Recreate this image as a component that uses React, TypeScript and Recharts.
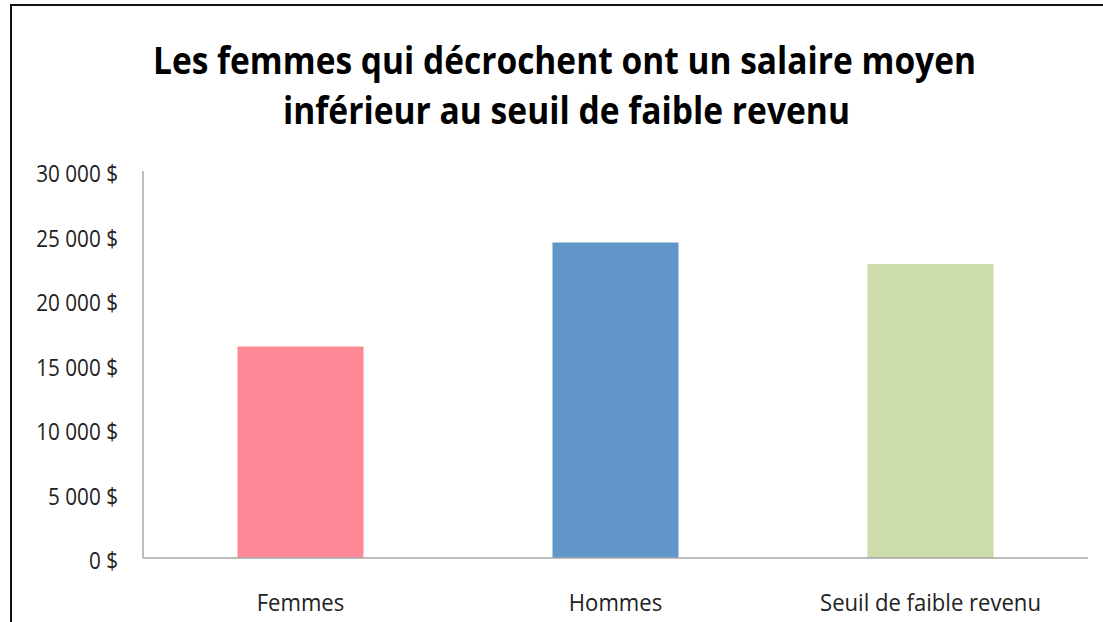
import React from "react";
import { BarChart, Bar, XAxis, YAxis, Cell } from "recharts";

const categories = ["Femmes", "Hommes", "Seuil de faible revenu"];
const salaires = [16400, 24450, 22800];
const yTicks = [0, 5000, 10000, 15000, 20000, 25000, 30000];
const titleLines = [
  "Les femmes qui décrochent ont un salaire moyen",
  "inférieur au seuil de faible revenu",
];

const COLORS = ["#FF8896", "#6196C9", "#CCDCAA"];
const FONT = "'Open Sans', Lato, sans-serif";

const data = categories.map((c, i) => ({ name: c, value: salaires[i] }));

const fmt = (v: number) => {
  const s = String(v).replace(/\B(?=(\d{3})+(?!\d))/g, " ");
  return `${s} $`;
};

const YTick = (props: any) => {
  const { y, payload } = props;
  return (
    <text
      transform={`translate(118, ${y + 11}) scale(0.9, 1)`}
      textAnchor="end"
      fontFamily={FONT}
      fontSize={23}
      fill="#222"
    >
      {fmt(payload.value)}
    </text>
  );
};

const XTick = (props: any) => {
  const { x, y, payload } = props;
  return (
    <text
      transform={`translate(${x}, ${y + 45}) scale(0.96, 1)`}
      textAnchor="middle"
      fontFamily={FONT}
      fontSize={23}
      fill="#222"
    >
      {payload.value}
    </text>
  );
};

export default function App() {
  return (
    <div
      style={{
        position: "absolute",
        left: 0,
        top: 0,
        width: 1103,
        height: 622,
        background: "#fff",
        overflow: "hidden",
      }}
    >
      <div
        style={{
          position: "absolute",
          left: 10,
          top: 4,
          width: 1200,
          height: 700,
          borderTop: "2px solid #111",
          borderLeft: "2px solid #111",
        }}
      />
      <svg
        width={1103}
        height={160}
        style={{ position: "absolute", left: 0, top: 0 }}
      >
        <text
          x={564.5}
          y={74}
          textAnchor="middle"
          fontFamily={FONT}
          fontWeight={700}
          fontSize={37}
          fill="#000"
          textLength={823}
          lengthAdjust="spacingAndGlyphs"
        >
          {titleLines[0]}
        </text>
        <text
          x={566.5}
          y={124}
          textAnchor="middle"
          fontFamily={FONT}
          fontWeight={700}
          fontSize={37}
          fill="#000"
          textLength={567}
          lengthAdjust="spacingAndGlyphs"
        >
          {titleLines[1]}
        </text>
      </svg>
      <div style={{ position: "absolute", left: 0, top: 0 }}>
        <BarChart
          width={1103}
          height={622}
          data={data}
          margin={{ top: 171, right: 15, bottom: 0, left: 0 }}
          barCategoryGap="30%"
        >
          <XAxis
            dataKey="name"
            height={64}
            axisLine={{ stroke: "#A6A6A6", strokeWidth: 1.5 }}
            tickLine={false}
            tick={<XTick />}
            interval={0}
          />
          <YAxis
            width={143}
            domain={[0, 30000]}
            ticks={yTicks}
            axisLine={{ stroke: "#A6A6A6", strokeWidth: 1.5 }}
            tickLine={false}
            tick={<YTick />}
            interval={0}
          />
          <Bar dataKey="value" isAnimationActive={false}>
            {data.map((_, i) => (
              <Cell key={i} fill={COLORS[i]} />
            ))}
          </Bar>
        </BarChart>
      </div>
    </div>
  );
}
